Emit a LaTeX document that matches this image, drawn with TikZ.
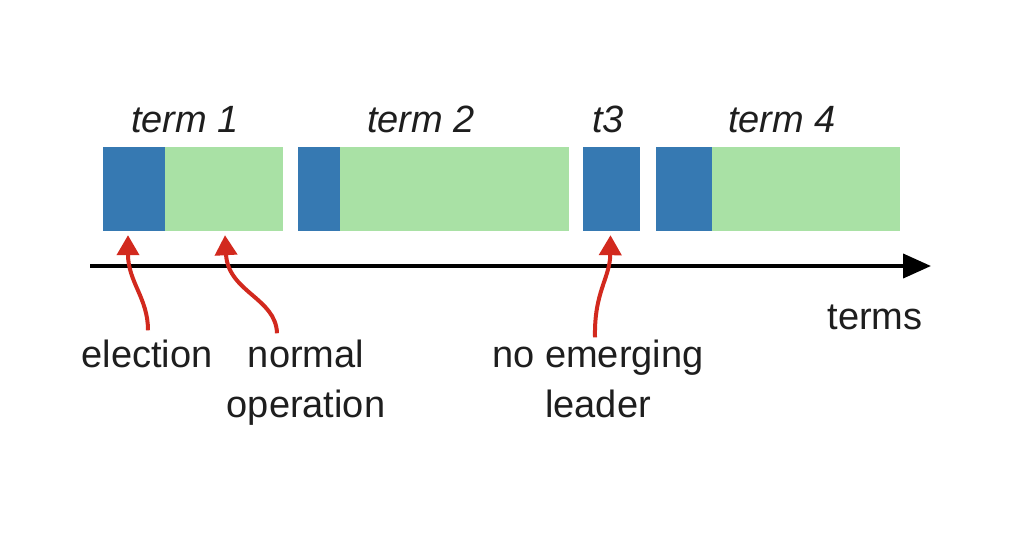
\documentclass[tikz,border=0pt]{standalone}
\usepackage{fontspec}
\setmainfont{Liberation Sans}
\usetikzlibrary{arrows.meta}
\definecolor{blueC}{HTML}{3679B2}
\definecolor{greenC}{HTML}{A9E1A5}
\definecolor{redC}{HTML}{D2291E}
\definecolor{txtC}{HTML}{1E1E1E}
\begin{document}
\begin{tikzpicture}[x=1pt,y=-1pt,
  blk/.style={draw=none,inner sep=0pt,minimum height=84pt},
  eblk/.style={blk,fill=blueC},
  nblk/.style={blk,fill=greenC},
  termlbl/.style={anchor=base,inner sep=0pt,text=txtC,font=\fontsize{38}{46}\selectfont\itshape},
  lbl/.style={anchor=base,inner sep=0pt,text=txtC,align=center,font=\fontsize{38}{50}\selectfont},
  axisline/.style={line width=4pt,-{Triangle[length=28pt,width=24pt]}},
  redarrow/.style={draw=redC,line width=4pt,-{Triangle[length=20pt,width=22pt]},redC}]
\useasboundingbox[fill=white] (0,0) rectangle (1024,538);
% bars
\node[eblk,minimum width=62pt] (e1) at (134,189) {};
\node[nblk,minimum width=118pt] (n1) at (224,189) {};
\node[eblk,minimum width=42pt] (e2) at (319,189) {};
\node[nblk,minimum width=229pt] (n2) at (454.5,189) {};
\node[eblk,minimum width=57pt] (e3) at (611.5,189) {};
\node[eblk,minimum width=56pt] (e4) at (684,189) {};
\node[nblk,minimum width=188pt] (n4) at (806,189) {};
% term labels
\node[termlbl] (t1) at (185,132) {term 1};
\node[termlbl] (t2) at (421,132) {term 2};
\node[termlbl] (t3) at (608,132) {t3};
\node[termlbl] (t4) at (782,132) {term 4};
% axis
\coordinate (axS) at (90,266);
\coordinate (axE) at (931,266);
\draw[axisline] (axS) -- (axE);
\node[lbl] (terms) at (875,329) {terms};
% bottom labels
\node[lbl] (lelec) at (147,367) {election};
\node[lbl] (lnorm) at (306,417) {normal\\operation};
\node[lbl] (lnoem) at (598,417) {no emerging\\leader};
% red arrows
\draw[redarrow] ([xshift=1pt,yshift=9pt]lelec.north) .. controls (148,298) and (128,282) .. ([xshift=-6pt,yshift=-4pt]e1.south);
\draw[redarrow] ([xshift=-29pt,yshift=6pt]lnorm.north) .. controls (276,298) and (228,292) .. ([xshift=1pt,yshift=-4pt]n1.south);
\draw[redarrow] ([xshift=-3pt,yshift=2pt]lnoem.north) .. controls (594,292) and (610,278) .. ([xshift=-1pt,yshift=-4pt]e3.south);
\end{tikzpicture}
\end{document}
